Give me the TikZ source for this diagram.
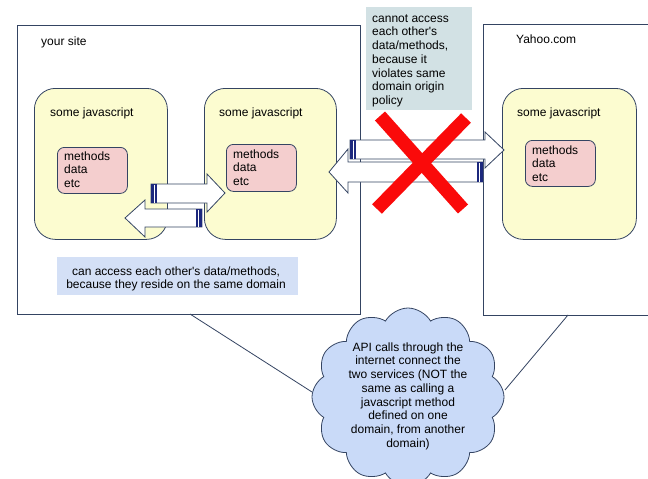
\documentclass[tikz,border=0pt]{standalone}
\usepackage{fontspec}
\setmainfont{Liberation Sans}[Ligatures=TeXOff]
\usetikzlibrary{shapes.symbols}
\definecolor{edge}{RGB}{52,68,98}
\definecolor{jsyellow}{RGB}{252,252,208}
\definecolor{mpink}{RGB}{244,206,206}
\definecolor{lblue}{RGB}{212,224,246}
\definecolor{lgray}{RGB}{210,225,228}
\definecolor{cblue}{RGB}{201,218,248}
\definecolor{navy}{RGB}{28,40,125}
\definecolor{xred}{RGB}{250,10,10}
\tikzset{
  txt/.style={inner sep=0pt, font=\fontsize{12}{13.7}\selectfont, text=black},
  sitebox/.style={draw=edge, fill=white, line width=0.8pt, inner sep=0pt, anchor=north west},
  jsbox/.style={draw=edge, fill=jsyellow, line width=0.8pt, rounded corners=21pt, inner sep=0pt, anchor=north west},
  membox/.style={draw=edge, fill=mpink, line width=0.8pt, rounded corners=7pt, inner sep=0pt, anchor=north west},
  blockarrow/.style={draw=edge, fill=white, line width=0.8pt, line join=miter},
  stripe/.style={fill=navy},
  stripegap/.style={draw=white, line width=0.9pt},
  link/.style={draw=edge, line width=0.8pt},
}
\newcommand{\fs}{\rule{0pt}{10pt}}
\begin{document}
\begin{tikzpicture}[x=1pt,y=-1pt]
\clip (0,0) rectangle (648,479);
\fill[white] (0,0) rectangle (648,479);

% outer site boxes
\node[sitebox, minimum width=343pt, minimum height=289pt] (site) at (17,25) {};
\node[sitebox, minimum width=200pt, minimum height=291pt] (yahoo) at (483,24) {};
\node[txt, anchor=base west] (sitelbl) at (41,45) {your site};
\node[txt, anchor=base west] (yahoolbl) at (516,43) {Yahoo.com};

% connector lines to cloud
\coordinate (sb) at (190,314);
\coordinate (yb) at (568,315);

% javascript boxes
\node[jsbox, minimum width=133pt, minimum height=151pt] (js1) at (34,88) {};
\node[jsbox, minimum width=132pt, minimum height=151pt] (js2) at (204,88) {};
\node[jsbox, minimum width=134pt, minimum height=151pt] (js3) at (502,88) {};
\node[txt, anchor=base west] (js1t) at (50,116) {some javascript};
\node[txt, anchor=base west] (js2t) at (219,116) {some javascript};
\node[txt, anchor=base west] (js3t) at (517,116) {some javascript};

% methods boxes
\node[membox, minimum width=70pt, minimum height=46pt] (m1) at (57,147) {};
\node[membox, minimum width=70pt, minimum height=47pt] (m2) at (226,144) {};
\node[membox, minimum width=70pt, minimum height=46pt] (m3) at (525,140) {};
\node[txt, anchor=north west, align=left] (m1t) at (64,150) {\fs methods\\data\\etc};
\node[txt, anchor=north west, align=left] (m2t) at (233,148) {\fs methods\\data\\etc};
\node[txt, anchor=north west, align=left] (m3t) at (532,144) {\fs methods\\data\\etc};

% same-domain label
\node[fill=lblue, minimum width=241pt, minimum height=38pt, anchor=north west, inner sep=0pt] (okbox) at (57,257) {};
\node[txt, anchor=north, align=center] (oktxt) at (176,265) {\fs can access each other's data/methods,\\because they reside on the same domain};

% cross-domain label
\node[fill=lgray, minimum width=106pt, minimum height=103pt, anchor=north west, inner sep=0pt] (nobox) at (366,7) {};
\node[txt, anchor=north west, align=left] (notxt) at (372,12) {\fs cannot access\\each other's\\data/methods,\\because it\\violates same\\domain origin\\policy};

% small arrows inside your site
\path[blockarrow] (151,184) -- (207,184) -- (207,174) -- (225,193) -- (207,212) -- (207,203) -- (151,203) -- cycle;
\fill[stripe] (151,184) rectangle (157,203);
\draw[stripegap] (154.3,184.5) -- (154.3,202.5);
\path[blockarrow] (202,209) -- (145,209) -- (145,200) -- (125,218) -- (145,237) -- (145,227) -- (202,227) -- cycle;
\fill[stripe] (196,209) rectangle (202,227);
\draw[stripegap] (198.7,209.5) -- (198.7,226.5);

% big arrows between sites
\path[blockarrow] (350,140) -- (485,140) -- (485,132) -- (504,150) -- (485,168) -- (485,159) -- (350,159) -- cycle;
\fill[stripe] (350,140) rectangle (356,159);
\draw[stripegap] (353.3,140.5) -- (353.3,158.5);
\path[blockarrow] (483,162) -- (348,162) -- (348,149) -- (329,172) -- (348,193) -- (348,182) -- (483,182) -- cycle;
\fill[stripe] (477,162) rectangle (483,182);
\draw[stripegap] (479.7,162.5) -- (479.7,181.5);

% red cross
\draw[xred, line width=13.5pt] (380,116) -- (463,209);
\draw[xred, line width=13.5pt] (466,118) -- (377,209);

% cloud
\draw[link] (sb) -- (312,392);
\draw[link] (yb) -- (505,390);
\node[cloud, cloud puffs=12, cloud puff arc=120, aspect=1.05, draw=edge, fill=cblue, line width=0.8pt, minimum width=192pt, minimum height=178pt, inner sep=0pt] (cloud) at (408,397) {};
\node[txt, anchor=north, align=center] (cloudtxt) at (408,341) {\fs API calls through the\\internet connect the\\two services (NOT the\\same as calling a\\javascript method\\defined on one\\domain, from another\\domain)};
\end{tikzpicture}
\end{document}
